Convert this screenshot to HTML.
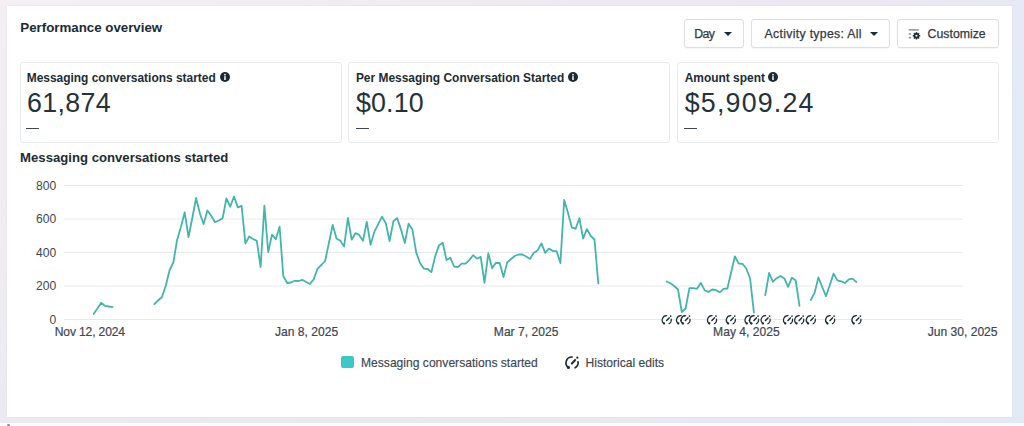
<!DOCTYPE html>
<html><head><meta charset="utf-8">
<style>
html,body{margin:0;padding:0;}
body{width:1024px;height:426px;position:relative;overflow:hidden;background:#ffffff;font-family:"Liberation Sans",sans-serif;color:#1c2b33;}
.bg{position:absolute;left:0;top:0;width:1024px;height:426px;background:linear-gradient(180deg,#f2eef1 0%,#f0edf2 50%,#eae9f4 100%);}
.bgr{position:absolute;left:1012px;top:0;width:12px;height:426px;background:linear-gradient(180deg,#e6eaf6 0%,#e2eaf8 40%,#e2eaf6 100%);}
.bgt{position:absolute;left:0;top:0;width:1012px;height:5.5px;background:linear-gradient(90deg,#f3eff2 0%,#efeaf0 50%,#ebe7f3 85%,#e8e8f5 100%);}
.bgb{position:absolute;left:0;top:416.8px;width:1024px;height:6.7px;background:linear-gradient(90deg,#eae9f4 0%,#e7e8f2 50%,#e3e9f4 100%);}
.bgbb{position:absolute;left:0;top:423px;width:1024px;height:3px;background:#fbfbfd;}
.card{position:absolute;left:7px;top:5.5px;width:1005px;height:411px;background:#fff;box-shadow:0 0 1px rgba(0,0,0,0.12);}
.t{position:absolute;white-space:nowrap;line-height:1;}
.h1{font-weight:bold;font-size:13.3px;left:20.3px;top:20.8px;color:#1c2b33;}
.kpi{position:absolute;top:62px;height:80.5px;width:320px;border:1px solid #e9ebee;border-radius:3px;box-sizing:border-box;background:#fff;}
.lbl{font-weight:bold;font-size:11.95px;top:72.6px;color:#1c2b33;}
.num{font-size:26.8px;top:90.2px;color:#25323a;}
.dash{position:absolute;top:127.8px;height:1.3px;background:#3e454c;}
.info{position:absolute;top:72.2px;width:10px;height:10px;}
.btn{position:absolute;top:19px;height:29.2px;border:1px solid #dcdee2;border-radius:3px;box-sizing:border-box;background:#fff;box-shadow:0 1px 1px rgba(0,0,0,0.04);}
.bt{font-size:12.3px;top:28.2px;color:#33393f;-webkit-text-stroke:0.25px #33393f;}
.tri{position:absolute;top:31.8px;width:0;height:0;border-left:4px solid transparent;border-right:4px solid transparent;border-top:4.4px solid #1c2b33;}
.h2{font-weight:bold;font-size:13.15px;left:20.1px;top:150.7px;color:#1c2b33;}
.yl{position:absolute;right:967.8px;font-size:12.1px;line-height:1;color:#3e4650;text-align:right;}
.xl{font-size:12.1px;top:325.9px;transform:translateX(-50%);color:#3e4650;-webkit-text-stroke:0.2px #3e4650;}
.leg{font-size:12.1px;top:357.3px;color:#3e4650;-webkit-text-stroke:0.15px #3e4650;}
svg.chart{position:absolute;left:0;top:0;}
</style></head>
<body>
<div class="bg"></div><div class="bgr"></div><div class="bgt"></div><div class="bgb"></div><div class="bgbb"></div>
<div class="card"></div><div style="position:absolute;left:7px;top:423.5px;width:3px;height:3px;background:#6a6d78;border-radius:2px 2px 0 0;opacity:0.8"></div>

<div class="t h1">Performance overview</div>

<div class="btn" style="left:684px;width:60px;"></div>
<div class="t bt" style="left:694.2px;letter-spacing:-0.6px;">Day</div>
<div class="tri" style="left:723.8px;"></div>

<div class="btn" style="left:750.5px;width:139.5px;"></div>
<div class="t bt" style="left:764.6px;letter-spacing:0.3px;">Activity types: All</div>
<div class="tri" style="left:869.8px;"></div>

<div class="btn" style="left:897.2px;width:102.3px;"></div>
<svg style="position:absolute;left:907px;top:27px;" width="16" height="14" viewBox="0 0 16 14">
  <rect x="1.7" y="2.1" width="10" height="1.5" fill="#8d9298"/>
  <rect x="1.7" y="6.2" width="2.4" height="1.5" fill="#8d9298"/>
  <rect x="1.7" y="9.9" width="2.4" height="1.6" fill="#8d9298"/>
  <g transform="translate(9.5,8.8)" fill="#1c2b33">
    <circle r="2.7"/>
    <rect x="-0.75" y="-3.7" width="1.5" height="7.4"/>
    <rect x="-0.75" y="-3.7" width="1.5" height="7.4" transform="rotate(45)"/>
    <rect x="-0.75" y="-3.7" width="1.5" height="7.4" transform="rotate(90)"/>
    <rect x="-0.75" y="-3.7" width="1.5" height="7.4" transform="rotate(135)"/>
    <circle r="1.05" fill="#fff"/>
  </g>
</svg>
<div class="t bt" style="left:927.6px;">Customize</div>

<div class="kpi" style="left:19.6px;width:322px;"></div>
<div class="kpi" style="left:348px;width:322px;"></div>
<div class="kpi" style="left:677.2px;width:322px;"></div>

<div class="t lbl" style="left:26.7px;">Messaging conversations started</div>
<svg class="info" style="left:220.3px;" viewBox="0 0 10 10"><circle cx="5" cy="5" r="5" fill="#1c2b33"/><rect x="4.25" y="4.2" width="1.5" height="3.8" fill="#fff"/><circle cx="5" cy="2.7" r="0.85" fill="#fff"/></svg>
<div class="t num" style="left:27px;letter-spacing:0.35px;">61,874</div>
<div class="dash" style="left:26.2px;width:6.4px;"></div><div class="dash" style="left:33.1px;width:6.4px;"></div>

<div class="t lbl" style="left:355.9px;">Per Messaging Conversation Started</div>
<svg class="info" style="left:568.2px;" viewBox="0 0 10 10"><circle cx="5" cy="5" r="5" fill="#1c2b33"/><rect x="4.25" y="4.2" width="1.5" height="3.8" fill="#fff"/><circle cx="5" cy="2.7" r="0.85" fill="#fff"/></svg>
<div class="t num" style="left:355.9px;letter-spacing:0.2px;">$0.10</div>
<div class="dash" style="left:355.5px;width:6.4px;"></div><div class="dash" style="left:362.4px;width:6.4px;"></div>

<div class="t lbl" style="left:684.7px;">Amount spent</div>
<svg class="info" style="left:768.4px;" viewBox="0 0 10 10"><circle cx="5" cy="5" r="5" fill="#1c2b33"/><rect x="4.25" y="4.2" width="1.5" height="3.8" fill="#fff"/><circle cx="5" cy="2.7" r="0.85" fill="#fff"/></svg>
<div class="t num" style="left:684.7px;letter-spacing:1.2px;">$5,909.24</div>
<div class="dash" style="left:684.2px;width:6.4px;"></div><div class="dash" style="left:691.1px;width:6.4px;"></div>

<div class="t h2">Messaging conversations started</div>

<div class="yl" style="top:179.84px">800</div>
<div class="yl" style="top:213.34px">600</div>
<div class="yl" style="top:246.84px">400</div>
<div class="yl" style="top:280.34px">200</div>
<div class="yl" style="top:313.84px">0</div>

<svg class="chart" width="1024" height="426" viewBox="0 0 1024 426">

<line x1="64" x2="963" y1="185.5" y2="185.5" stroke="#e8e9ec" stroke-width="1"/>
<line x1="64" x2="963" y1="219.0" y2="219.0" stroke="#e8e9ec" stroke-width="1"/>
<line x1="64" x2="963" y1="252.5" y2="252.5" stroke="#e8e9ec" stroke-width="1"/>
<line x1="64" x2="963" y1="286.0" y2="286.0" stroke="#e8e9ec" stroke-width="1"/>
<line x1="64" x2="963" y1="319.5" y2="319.5" stroke="#e8e9ec" stroke-width="1"/>
<g fill="none" stroke="#43b5ab" stroke-width="1.8" stroke-linejoin="round" stroke-linecap="round"><polyline points="93.6,314.0 97.4,308.5 101.2,302.7 105.0,305.9 108.8,306.5 112.6,307.2"/><polyline points="154.3,304.2 158.1,300.5 161.9,297.0 165.7,286.0 169.5,270.5 173.3,262.5 177.1,240.0 180.9,227.0 184.7,212.3 188.5,237.0 192.3,218.0 196.1,198.0 199.9,213.5 203.6,224.0 207.4,210.5 211.2,215.8 215.0,222.3 218.8,220.5 222.6,218.4 226.4,198.5 230.2,206.7 234.0,196.5 237.8,207.4 241.6,205.8 245.4,243.5 249.2,236.5 253.0,239.0 256.8,240.8 260.6,267.0 264.4,205.6 268.2,252.0 272.0,234.6 275.8,239.2 279.6,226.7 283.3,276.0 287.1,283.0 290.9,282.5 294.7,280.8 298.5,281.0 302.3,279.8 306.1,282.0 309.9,284.0 313.7,279.4 317.5,268.8 321.3,265.0 325.1,261.0 328.9,243.0 332.7,224.8 336.5,238.5 340.3,240.8 344.1,246.5 347.9,218.0 351.7,239.7 355.4,233.1 359.2,234.9 363.0,240.8 366.8,221.8 370.6,244.8 374.4,231.7 378.2,224.2 382.0,216.6 385.8,223.2 389.6,241.1 393.4,221.1 397.2,218.0 401.0,229.6 404.8,243.0 408.6,223.7 412.4,229.6 416.2,252.4 420.0,263.0 423.8,268.6 427.6,269.0 431.4,272.1 435.1,256.6 438.9,245.4 442.7,242.8 446.5,260.1 450.3,257.7 454.1,266.5 457.9,267.2 461.7,263.7 465.5,263.7 469.3,260.1 473.1,255.2 476.9,258.7 480.7,256.9 484.5,282.8 488.3,253.2 492.1,268.3 495.9,262.8 499.7,263.0 503.5,277.1 507.2,262.4 511.0,259.0 514.8,256.0 518.6,254.5 522.4,254.5 526.2,256.5 530.0,258.9 533.8,252.8 537.6,250.4 541.4,243.4 545.2,252.8 549.0,248.6 552.8,251.1 556.6,251.1 560.4,263.1 564.2,199.9 568.0,213.0 571.8,227.3 575.6,228.7 579.4,218.2 583.1,238.6 586.9,229.0 590.7,236.0 594.5,239.5 598.3,283.5"/><polyline points="666.6,281.5 670.4,283.2 674.2,286.0 678.0,289.5 681.8,312.0 685.6,308.5 689.4,288.1 693.2,288.1 697.0,288.8 700.8,282.9 704.6,290.2 708.4,291.9 712.2,289.5 716.0,290.2 719.8,292.3 723.6,288.8 727.4,288.5 731.2,272.0 734.9,256.3 738.7,263.5 742.5,263.8 746.3,268.5 750.1,278.5 753.9,312.6"/><polyline points="765.3,295.2 769.1,273.0 772.9,281.6 776.7,278.2 780.5,276.0 784.3,278.4 788.1,286.8 791.9,277.6 795.7,280.5 799.5,305.9"/><polyline points="810.8,300.0 814.6,292.9 818.4,277.4 822.2,287.0 826.0,296.2 829.8,285.0 833.6,273.6 837.4,280.4 841.2,281.3 845.0,283.0 848.8,279.4 852.6,278.7 856.4,282.2"/></g>
<g transform="translate(660.7,314.1)"><circle cx="6.3" cy="6" r="3.9" fill="#fff"/>
  <g fill="none" stroke="#1c2b33" stroke-linecap="round">
    <path d="M6.1 1.5 A4.4 4.4 0 0 0 3.4 9.5" stroke-width="1.25"/>
    <path d="M10.5 5 A4.4 4.4 0 0 1 8.3 9.6" stroke-width="1.2"/>
    <path d="M5.9 6.4 L8.4 3.8" stroke-width="1.5"/>
  </g>
  <circle cx="3.3" cy="9.3" r="1.15" fill="#1c2b33"/>
  <circle cx="10" cy="2.0" r="0.85" fill="#1c2b33"/></g><g transform="translate(675.0,314.1)"><circle cx="6.3" cy="6" r="3.9" fill="#fff"/>
  <g fill="none" stroke="#1c2b33" stroke-linecap="round">
    <path d="M6.1 1.5 A4.4 4.4 0 0 0 3.4 9.5" stroke-width="1.25"/>
    <path d="M10.5 5 A4.4 4.4 0 0 1 8.3 9.6" stroke-width="1.2"/>
    <path d="M5.9 6.4 L8.4 3.8" stroke-width="1.5"/>
  </g>
  <circle cx="3.3" cy="9.3" r="1.15" fill="#1c2b33"/>
  <circle cx="10" cy="2.0" r="0.85" fill="#1c2b33"/></g><g transform="translate(679.5,314.1)"><circle cx="6.3" cy="6" r="3.9" fill="#fff"/>
  <g fill="none" stroke="#1c2b33" stroke-linecap="round">
    <path d="M6.1 1.5 A4.4 4.4 0 0 0 3.4 9.5" stroke-width="1.25"/>
    <path d="M10.5 5 A4.4 4.4 0 0 1 8.3 9.6" stroke-width="1.2"/>
    <path d="M5.9 6.4 L8.4 3.8" stroke-width="1.5"/>
  </g>
  <circle cx="3.3" cy="9.3" r="1.15" fill="#1c2b33"/>
  <circle cx="10" cy="2.0" r="0.85" fill="#1c2b33"/></g><g transform="translate(706.0,314.1)"><circle cx="6.3" cy="6" r="3.9" fill="#fff"/>
  <g fill="none" stroke="#1c2b33" stroke-linecap="round">
    <path d="M6.1 1.5 A4.4 4.4 0 0 0 3.4 9.5" stroke-width="1.25"/>
    <path d="M10.5 5 A4.4 4.4 0 0 1 8.3 9.6" stroke-width="1.2"/>
    <path d="M5.9 6.4 L8.4 3.8" stroke-width="1.5"/>
  </g>
  <circle cx="3.3" cy="9.3" r="1.15" fill="#1c2b33"/>
  <circle cx="10" cy="2.0" r="0.85" fill="#1c2b33"/></g><g transform="translate(724.8,314.1)"><circle cx="6.3" cy="6" r="3.9" fill="#fff"/>
  <g fill="none" stroke="#1c2b33" stroke-linecap="round">
    <path d="M6.1 1.5 A4.4 4.4 0 0 0 3.4 9.5" stroke-width="1.25"/>
    <path d="M10.5 5 A4.4 4.4 0 0 1 8.3 9.6" stroke-width="1.2"/>
    <path d="M5.9 6.4 L8.4 3.8" stroke-width="1.5"/>
  </g>
  <circle cx="3.3" cy="9.3" r="1.15" fill="#1c2b33"/>
  <circle cx="10" cy="2.0" r="0.85" fill="#1c2b33"/></g><g transform="translate(743.5,314.1)"><circle cx="6.3" cy="6" r="3.9" fill="#fff"/>
  <g fill="none" stroke="#1c2b33" stroke-linecap="round">
    <path d="M6.1 1.5 A4.4 4.4 0 0 0 3.4 9.5" stroke-width="1.25"/>
    <path d="M10.5 5 A4.4 4.4 0 0 1 8.3 9.6" stroke-width="1.2"/>
    <path d="M5.9 6.4 L8.4 3.8" stroke-width="1.5"/>
  </g>
  <circle cx="3.3" cy="9.3" r="1.15" fill="#1c2b33"/>
  <circle cx="10" cy="2.0" r="0.85" fill="#1c2b33"/></g><g transform="translate(748.0,314.1)"><circle cx="6.3" cy="6" r="3.9" fill="#fff"/>
  <g fill="none" stroke="#1c2b33" stroke-linecap="round">
    <path d="M6.1 1.5 A4.4 4.4 0 0 0 3.4 9.5" stroke-width="1.25"/>
    <path d="M10.5 5 A4.4 4.4 0 0 1 8.3 9.6" stroke-width="1.2"/>
    <path d="M5.9 6.4 L8.4 3.8" stroke-width="1.5"/>
  </g>
  <circle cx="3.3" cy="9.3" r="1.15" fill="#1c2b33"/>
  <circle cx="10" cy="2.0" r="0.85" fill="#1c2b33"/></g><g transform="translate(759.6,314.1)"><circle cx="6.3" cy="6" r="3.9" fill="#fff"/>
  <g fill="none" stroke="#1c2b33" stroke-linecap="round">
    <path d="M6.1 1.5 A4.4 4.4 0 0 0 3.4 9.5" stroke-width="1.25"/>
    <path d="M10.5 5 A4.4 4.4 0 0 1 8.3 9.6" stroke-width="1.2"/>
    <path d="M5.9 6.4 L8.4 3.8" stroke-width="1.5"/>
  </g>
  <circle cx="3.3" cy="9.3" r="1.15" fill="#1c2b33"/>
  <circle cx="10" cy="2.0" r="0.85" fill="#1c2b33"/></g><g transform="translate(782.0,314.1)"><circle cx="6.3" cy="6" r="3.9" fill="#fff"/>
  <g fill="none" stroke="#1c2b33" stroke-linecap="round">
    <path d="M6.1 1.5 A4.4 4.4 0 0 0 3.4 9.5" stroke-width="1.25"/>
    <path d="M10.5 5 A4.4 4.4 0 0 1 8.3 9.6" stroke-width="1.2"/>
    <path d="M5.9 6.4 L8.4 3.8" stroke-width="1.5"/>
  </g>
  <circle cx="3.3" cy="9.3" r="1.15" fill="#1c2b33"/>
  <circle cx="10" cy="2.0" r="0.85" fill="#1c2b33"/></g><g transform="translate(793.2,314.1)"><circle cx="6.3" cy="6" r="3.9" fill="#fff"/>
  <g fill="none" stroke="#1c2b33" stroke-linecap="round">
    <path d="M6.1 1.5 A4.4 4.4 0 0 0 3.4 9.5" stroke-width="1.25"/>
    <path d="M10.5 5 A4.4 4.4 0 0 1 8.3 9.6" stroke-width="1.2"/>
    <path d="M5.9 6.4 L8.4 3.8" stroke-width="1.5"/>
  </g>
  <circle cx="3.3" cy="9.3" r="1.15" fill="#1c2b33"/>
  <circle cx="10" cy="2.0" r="0.85" fill="#1c2b33"/></g><g transform="translate(804.8,314.1)"><circle cx="6.3" cy="6" r="3.9" fill="#fff"/>
  <g fill="none" stroke="#1c2b33" stroke-linecap="round">
    <path d="M6.1 1.5 A4.4 4.4 0 0 0 3.4 9.5" stroke-width="1.25"/>
    <path d="M10.5 5 A4.4 4.4 0 0 1 8.3 9.6" stroke-width="1.2"/>
    <path d="M5.9 6.4 L8.4 3.8" stroke-width="1.5"/>
  </g>
  <circle cx="3.3" cy="9.3" r="1.15" fill="#1c2b33"/>
  <circle cx="10" cy="2.0" r="0.85" fill="#1c2b33"/></g><g transform="translate(824.1,314.1)"><circle cx="6.3" cy="6" r="3.9" fill="#fff"/>
  <g fill="none" stroke="#1c2b33" stroke-linecap="round">
    <path d="M6.1 1.5 A4.4 4.4 0 0 0 3.4 9.5" stroke-width="1.25"/>
    <path d="M10.5 5 A4.4 4.4 0 0 1 8.3 9.6" stroke-width="1.2"/>
    <path d="M5.9 6.4 L8.4 3.8" stroke-width="1.5"/>
  </g>
  <circle cx="3.3" cy="9.3" r="1.15" fill="#1c2b33"/>
  <circle cx="10" cy="2.0" r="0.85" fill="#1c2b33"/></g><g transform="translate(850.4,314.1)"><circle cx="6.3" cy="6" r="3.9" fill="#fff"/>
  <g fill="none" stroke="#1c2b33" stroke-linecap="round">
    <path d="M6.1 1.5 A4.4 4.4 0 0 0 3.4 9.5" stroke-width="1.25"/>
    <path d="M10.5 5 A4.4 4.4 0 0 1 8.3 9.6" stroke-width="1.2"/>
    <path d="M5.9 6.4 L8.4 3.8" stroke-width="1.5"/>
  </g>
  <circle cx="3.3" cy="9.3" r="1.15" fill="#1c2b33"/>
  <circle cx="10" cy="2.0" r="0.85" fill="#1c2b33"/></g>
</svg>

<div class="t xl" style="left:89.8px;letter-spacing:-0.15px;">Nov 12, 2024</div>
<div class="t xl" style="left:306.6px;">Jan 8, 2025</div>
<div class="t xl" style="left:526.1px;">Mar 7, 2025</div>
<div class="t xl" style="left:746.4px;">May 4, 2025</div>
<div class="t xl" style="left:962.6px;">Jun 30, 2025</div>

<div style="position:absolute;left:341.1px;top:355.9px;width:12.5px;height:12.5px;background:#3cc8c6;border-radius:2px;"></div>
<div class="t leg" style="left:361px;">Messaging conversations started</div>
<svg style="position:absolute;left:563.5px;top:355.1px;overflow:visible" width="16" height="16" viewBox="0 0 12 12"><circle cx="6.3" cy="6" r="3.9" fill="#fff"/>
  <g fill="none" stroke="#1c2b33" stroke-linecap="round">
    <path d="M6.1 1.5 A4.4 4.4 0 0 0 3.4 9.5" stroke-width="1.25"/>
    <path d="M10.5 5 A4.4 4.4 0 0 1 8.3 9.6" stroke-width="1.2"/>
    <path d="M5.9 6.4 L8.4 3.8" stroke-width="1.5"/>
  </g>
  <circle cx="3.3" cy="9.3" r="1.15" fill="#1c2b33"/>
  <circle cx="10" cy="2.0" r="0.85" fill="#1c2b33"/></svg>
<div class="t leg" style="left:585.5px;">Historical edits</div>
</body></html>
